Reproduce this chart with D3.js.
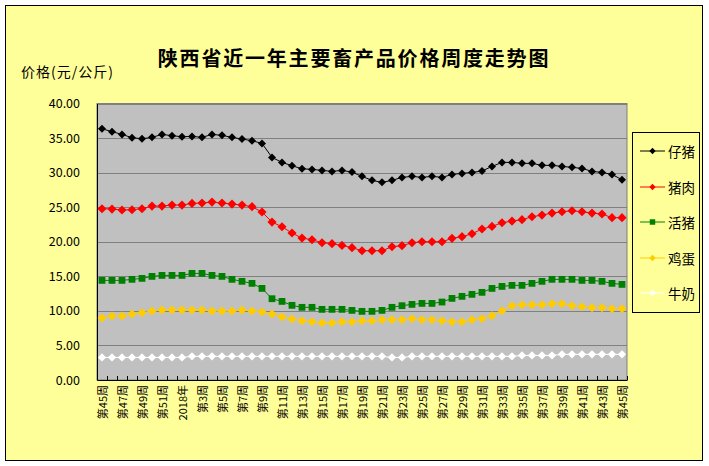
<!DOCTYPE html>
<html>
<head>
<meta charset="utf-8">
<script src="https://cdn.jsdelivr.net/npm/d3@7"></script>
<style>
body { margin: 0; background: #fff; }
text { font-family: "Noto Sans CJK SC", "DejaVu Sans", sans-serif; }
</style>
</head>
<body>
<script>
var categories = ["第45周","第46周","第47周","第48周","第49周","第50周","第51周","第52周","2018年",
  "第2周","第3周","第4周","第5周","第6周","第7周","第8周","第9周","第10周","第11周","第12周",
  "第13周","第14周","第15周","第16周","第17周","第18周","第19周","第20周","第21周","第22周",
  "第23周","第24周","第25周","第26周","第27周","第28周","第29周","第30周","第31周","第32周",
  "第33周","第34周","第35周","第36周","第37周","第38周","第39周","第40周","第41周","第42周",
  "第43周","第44周","第45周"];

var piglet = [36.35,35.92,35.53,35.05,34.90,35.10,35.53,35.34,35.19,35.24,35.10,35.53,35.39,35.10,
  34.86,34.61,34.23,32.20,31.48,31.00,30.56,30.47,30.32,30.18,30.32,30.08,29.46,28.88,28.59,28.88,
  29.31,29.46,29.31,29.46,29.31,29.74,29.89,30.03,30.23,30.90,31.48,31.48,31.34,31.34,31.05,31.05,
  30.90,30.76,30.61,30.18,30.03,29.74,28.97];
var pork = [24.78,24.73,24.59,24.63,24.78,25.16,25.16,25.31,25.31,25.55,25.60,25.74,25.60,25.45,
  25.31,25.07,24.30,22.85,22.17,21.26,20.53,20.29,19.86,19.72,19.47,19.14,18.70,18.70,18.70,19.28,
  19.43,19.86,20.00,20.00,20.00,20.49,20.73,21.16,21.84,22.22,22.75,22.99,23.19,23.62,23.86,24.15,
  24.34,24.49,24.34,24.15,24.01,23.48,23.48];
var hog = [14.41,14.41,14.41,14.56,14.70,14.99,15.13,15.13,15.13,15.42,15.42,15.13,14.99,14.56,
  14.27,13.98,13.25,11.76,11.37,10.80,10.51,10.51,10.22,10.22,10.22,10.07,9.93,9.93,10.07,10.51,
  10.75,10.94,11.08,11.08,11.28,11.81,12.10,12.39,12.68,13.25,13.54,13.69,13.69,13.98,14.27,14.56,
  14.56,14.56,14.41,14.41,14.27,13.98,13.83];
var egg = [8.96,9.25,9.25,9.54,9.73,9.98,10.12,10.12,10.12,10.12,10.12,9.98,9.98,9.98,
  10.12,9.98,9.83,9.54,9.11,8.82,8.58,8.43,8.29,8.29,8.43,8.43,8.58,8.58,8.72,8.72,
  8.72,8.87,8.72,8.72,8.58,8.43,8.43,8.72,8.87,9.30,10.02,10.75,10.89,10.89,10.89,11.04,
  11.04,10.75,10.60,10.46,10.46,10.31,10.31];
var milk = [3.27,3.27,3.27,3.27,3.27,3.27,3.27,3.27,3.27,3.42,3.42,3.42,3.42,3.42,
  3.42,3.42,3.42,3.42,3.42,3.42,3.42,3.42,3.42,3.42,3.42,3.42,3.42,3.42,3.42,3.27,
  3.27,3.42,3.42,3.42,3.42,3.42,3.42,3.42,3.42,3.42,3.42,3.42,3.56,3.56,3.56,3.56,
  3.71,3.71,3.71,3.71,3.71,3.71,3.71];

var seriesNames = ["仔猪","猪肉","活猪","鸡蛋","牛奶"];
var yTicks = [0,5,10,15,20,25,30,35,40];

var series = [
  {name: seriesNames[0], values: piglet, color: "#000000", shape: "diamond", size: 32},
  {name: seriesNames[1], values: pork, color: "#FF0000", shape: "diamond", size: 42},
  {name: seriesNames[2], values: hog, color: "#008000", shape: "square", size: 46},
  {name: seriesNames[3], values: egg, color: "#FFCC00", shape: "diamond", size: 40},
  {name: seriesNames[4], values: milk, color: "#FFFFFF", shape: "diamond", size: 34}
];

var W = 709, H = 466;
var plot = {left: 97, right: 627, top: 103.5, bottom: 380};

var svg = d3.select("body").append("svg")
  .attr("width", W)
  .attr("height", H);

svg.append("rect")
  .attr("x", 5.5).attr("y", 5.5)
  .attr("width", 697).attr("height", 455)
  .attr("fill", "#FFFF99")
  .attr("stroke", "#000").attr("stroke-width", 1);

var x = d3.scaleBand().domain(d3.range(categories.length)).range([plot.left, plot.right]).padding(0);
var y = d3.scaleLinear().domain([0, 40]).range([plot.bottom, plot.top]);

// plot area
svg.append("rect")
  .attr("x", plot.left).attr("y", plot.top)
  .attr("width", plot.right - plot.left).attr("height", plot.bottom - plot.top)
  .attr("fill", "#C0C0C0")
  .attr("stroke", "#808080").attr("stroke-width", 1);

// gridlines
svg.append("g")
  .selectAll("line")
  .data(yTicks.filter(function(d){ return d > 0; }))
  .enter().append("line")
  .attr("x1", plot.left).attr("x2", plot.right)
  .attr("y1", function(d){ return Math.round(y(d)) + 0.5; })
  .attr("y2", function(d){ return Math.round(y(d)) + 0.5; })
  .attr("stroke", "#808080");

// y axis
var yAxisGroup = svg.append("g")
  .attr("transform", "translate(" + plot.left + ",0)");
yAxisGroup.call(d3.axisLeft(y).tickValues(yTicks).tickFormat(d3.format(".2f")).tickSize(0).tickPadding(17));
yAxisGroup.select(".domain").attr("stroke", "#000");
yAxisGroup.selectAll("text")
  .attr("font-family", "'DejaVu Sans Mono', monospace")
  .attr("font-size", 12.5)
  .attr("fill", "#000");

// x axis
var xAxisGroup = svg.append("g")
  .attr("transform", "translate(0," + plot.bottom + ")");
xAxisGroup.call(d3.axisBottom(x).tickSize(0).tickFormat(function(i){ return categories[i]; }));
xAxisGroup.select(".domain").attr("stroke", "#000");
xAxisGroup.selectAll(".tick").filter(function(i){ return i % 2 === 1; }).remove();
xAxisGroup.selectAll(".tick text")
  .attr("font-size", 11)
  .attr("fill", "#000")
  .attr("text-anchor", "end")
  .attr("dominant-baseline", "central")
  .attr("transform", "translate(0,5) rotate(-90)")
  .attr("x", 0).attr("y", 0).attr("dy", null);

// category tick marks (inside)
svg.append("g")
  .selectAll("line")
  .data(d3.range(categories.length + 1))
  .enter().append("line")
  .attr("x1", function(i){ return Math.round(plot.left + i * x.step()) + 0.5; })
  .attr("x2", function(i){ return Math.round(plot.left + i * x.step()) + 0.5; })
  .attr("y1", plot.bottom).attr("y2", plot.bottom - 4)
  .attr("stroke", "#000");

var line = d3.line()
  .x(function(d, i){ return x(i) + x.bandwidth() / 2; })
  .y(function(d){ return y(d); });

function markerPath(s) {
  return d3.symbol().type(d3.symbolSquare).size(s.size)();
}

series.forEach(function(s) {
  var g = svg.append("g");
  g.append("path")
    .attr("d", line(s.values))
    .attr("fill", "none")
    .attr("stroke", s.color)
    .attr("stroke-width", 1);
  g.selectAll("path.m")
    .data(s.values)
    .enter().append("path")
    .attr("class", "m")
    .attr("d", markerPath(s))
    .attr("fill", s.color)
    .attr("transform", function(d, i) {
      return "translate(" + (x(i) + x.bandwidth() / 2) + "," + y(d) + ")" + (s.shape === "diamond" ? " rotate(45)" : "");
    });
});

// legend
var legend = svg.append("g");
legend.append("rect")
  .attr("x", 632.5).attr("y", 132.5)
  .attr("width", 67).attr("height", 180)
  .attr("fill", "#FFFF99")
  .attr("stroke", "#000");
var legendY = [151, 187, 222, 258, 293];
series.forEach(function(s, k) {
  var ly = legendY[k];
  legend.append("line")
    .attr("x1", 640).attr("x2", 665)
    .attr("y1", ly).attr("y2", ly)
    .attr("stroke", s.color);
  legend.append("path")
    .attr("d", d3.symbol().type(d3.symbolSquare).size(s.shape === "square" ? 30 : 20)())
    .attr("fill", s.color)
    .attr("transform", "translate(652.5," + ly + ")" + (s.shape === "diamond" ? " rotate(45)" : ""));
  legend.append("text")
    .attr("x", 668).attr("y", ly)
    .attr("dominant-baseline", "central")
    .attr("font-size", 13.5)
    .attr("fill", "#000")
    .text(s.name);
});

// titles
svg.append("text")
  .attr("x", 354).attr("y", 57)
  .attr("text-anchor", "middle")
  .attr("dominant-baseline", "central")
  .attr("font-size", 20)
  .attr("font-weight", "bold")
  .attr("letter-spacing", 1.8)
  .attr("fill", "#000")
  .text("陕西省近一年主要畜产品价格周度走势图");

svg.append("text")
  .attr("x", 21).attr("y", 71)
  .attr("dominant-baseline", "central")
  .attr("font-size", 14)
  .attr("letter-spacing", 1)
  .attr("fill", "#000")
  .text("价格(元/公斤)");
</script>
</body>
</html>
